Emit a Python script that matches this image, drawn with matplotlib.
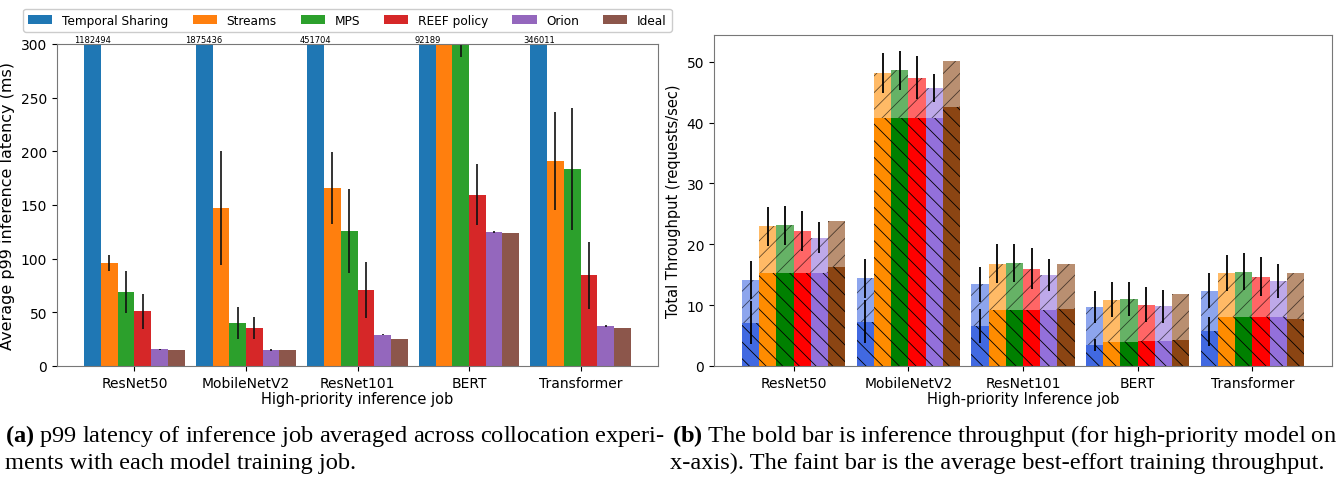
import numpy as np
import matplotlib
matplotlib.use("Agg")
from matplotlib import pyplot as plt

models = ["ResNet50", "MobileNetV2", "ResNet101", "BERT", "Transformer"]
methods = ["Temporal Sharing", "Streams", "MPS", "REEF policy", "Orion", "Ideal"]

# (a) p99 latency in ms; Temporal Sharing is way off the scale, its value is printed on top
ts_lat = [1182494, 1875436, 451704, 92189, 346011]
ts_lat_err = [0, 0, 0, 0, 0]
streams_lat = [96, 147, 165.5, 330, 191]
streams_lat_err = [7.5, 53, 33.5, 20, 46]
mps_lat = [69, 40, 126, 310, 183.5]
mps_lat_err = [19.5, 15, 39, 22, 56.5]
reef_lat = [51, 35.5, 71, 159.5, 84.5]
reef_lat_err = [16.5, 10.5, 26, 28.5, 31]
orion_lat = [15.5, 15, 29, 125, 37.5]
orion_lat_err = [0.5, 1, 0.5, 1, 1]
ideal_lat = [14.8, 14.8, 25, 123.5, 35.5]
ideal_lat_err = [0, 0, 0, 0, 0]

# (b) throughput in requests/sec: inference part (bold) and total incl. training (faint)
ts_inf = [7.1, 7.3, 6.6, 3.5, 5.7]
ts_inf_err = [3.55, 3.55, 2.8, 1.0, 2.4]
ts_tot = [14.1, 14.4, 13.4, 9.7, 12.4]
ts_tot_err = [3.1, 3.2, 2.9, 2.7, 2.8]
streams_inf = [15.3, 40.7, 9.2, 4.0, 8.1]
streams_tot = [23.0, 48.2, 16.8, 10.9, 15.3]
streams_tot_err = [3.2, 3.3, 3.2, 2.85, 2.9]
mps_inf = [15.3, 40.7, 9.2, 4.0, 8.0]
mps_tot = [23.1, 48.6, 16.9, 11.0, 15.5]
mps_tot_err = [3.2, 3.2, 3.15, 2.85, 3.0]
reef_inf = [15.3, 40.7, 9.2, 4.1, 8.1]
reef_tot = [22.2, 47.4, 16.0, 10.1, 14.7]
reef_tot_err = [3.35, 3.5, 3.35, 2.95, 3.25]
orion_inf = [15.3, 40.7, 9.2, 4.1, 8.1]
orion_tot = [21.1, 45.7, 14.9, 9.8, 14.0]
orion_tot_err = [2.55, 2.3, 2.65, 2.7, 2.75]
ideal_inf = [16.2, 42.5, 9.3, 4.3, 7.8]
ideal_tot = [23.8, 50.1, 16.8, 11.9, 15.3]

lat_vals = [ts_lat, streams_lat, mps_lat, reef_lat, orion_lat, ideal_lat]
lat_errs = [ts_lat_err, streams_lat_err, mps_lat_err, reef_lat_err, orion_lat_err, ideal_lat_err]
inf_vals = [ts_inf, streams_inf, mps_inf, reef_inf, orion_inf, ideal_inf]
inf_errs = [ts_inf_err, None, None, None, None, None]
tot_vals = [ts_tot, streams_tot, mps_tot, reef_tot, orion_tot, ideal_tot]
tot_errs = [ts_tot_err, streams_tot_err, mps_tot_err, reef_tot_err, orion_tot_err, None]

tab_colors = ["tab:blue", "tab:orange", "tab:green", "tab:red", "tab:purple", "tab:brown"]
tput_colors = ["royalblue", "darkorange", "green", "red", "mediumpurple", "saddlebrown"]

W, H = 1340, 481
plt.rcParams["hatch.linewidth"] = 0.6
plt.rcParams["hatch.color"] = "black"
plt.rcParams["axes.edgecolor"] = "#777777"
plt.rcParams["mathtext.fontset"] = "custom"
plt.rcParams["mathtext.bf"] = "Liberation Serif:bold"
plt.rcParams["mathtext.rm"] = "Liberation Serif"

fig = plt.figure(figsize=(W / 100, H / 100), dpi=100)

def px_axes(x0, y0, x1, y1):
    return fig.add_axes([x0 / W, 1 - y1 / H, (x1 - x0) / W, (y1 - y0) / H])

x = np.arange(len(models))
width = 0.15

# ---- (a) latency
ax1 = px_axes(57, 45, 658, 367)
for i, m in enumerate(methods):
    pos = x + (i - 2.5) * width
    ax1.bar(pos, lat_vals[i], width, color=tab_colors[i], label=m,
            yerr=lat_errs[i], error_kw=dict(ecolor="#111111", lw=1.2, capsize=0))
for j in range(len(models)):
    ax1.text(x[j] - 2.5 * width, 300, "%d" % ts_lat[j], ha="center", va="bottom", fontsize=6)
ax1.set_ylim(0, 300)
ax1.set_xticks(x)
ax1.set_xticklabels(models, fontsize=10)
ax1.tick_params(axis="y", labelsize=10)
ax1.set_ylabel("Average p99 inference latency (ms)", fontsize=11.5)
ax1.set_xlabel("High-priority inference job", fontsize=10.5, labelpad=1)

fig.legend(*ax1.get_legend_handles_labels(), loc="upper center", ncol=6,
           bbox_to_anchor=((26 + 669) / 2 / W, 1 - 4 / H), fontsize=8.7,
           columnspacing=2.0, handletextpad=0.8, borderpad=0.4, framealpha=1)

# ---- (b) throughput
ax2 = px_axes(714, 36, 1332, 367)
for i, m in enumerate(methods):
    pos = x + (i - 2.5) * width
    inf = np.array(inf_vals[i])
    train = np.array(tot_vals[i]) - inf
    ax2.bar(pos, inf, width, color=tput_colors[i], hatch="\\\\", edgecolor="black", lw=0)
    ax2.bar(pos, train, width, bottom=inf, color=tput_colors[i], alpha=0.6,
            hatch="//", edgecolor="black", lw=0)
for i in range(len(methods)):
    pos = x + (i - 2.5) * width
    if inf_errs[i] is not None:
        ax2.errorbar(pos, inf_vals[i], yerr=inf_errs[i], fmt="none", ecolor="black", lw=1.3, zorder=4)
    if tot_errs[i] is not None:
        ax2.errorbar(pos, tot_vals[i], yerr=tot_errs[i], fmt="none", ecolor="black", lw=1.3, zorder=4)
ax2.set_xticks(x)
ax2.set_xticklabels(models, fontsize=10)
ax2.tick_params(axis="y", labelsize=10)
ax2.set_ylabel("Total Throughput (requests/sec)", fontsize=10.5)
ax2.set_xlabel("High-priority Inference job", fontsize=10.5, labelpad=1)

# ---- captions
cap = dict(fontsize=17.6, family="Liberation Serif", va="baseline", ha="left")
fig.text(5 / W, 1 - 442 / H, r"$\mathbf{(a)}$ p99 latency of inference job averaged across collocation experi-", **cap)
fig.text(5 / W, 1 - 469 / H, "ments with each model training job.", **cap)
fig.text(672 / W, 1 - 442 / H, r"$\mathbf{(b)}$ The bold bar is inference throughput (for high-priority model on", **cap)
fig.text(670 / W, 1 - 469 / H, "x-axis). The faint bar is the average best-effort training throughput.", **cap)

fig.savefig("out.png", dpi=100)
